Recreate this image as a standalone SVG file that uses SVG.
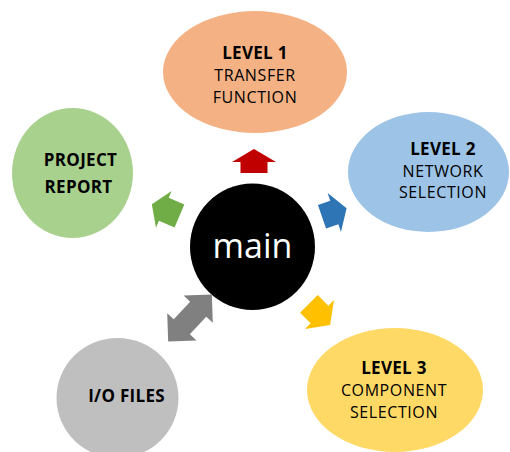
<svg xmlns="http://www.w3.org/2000/svg" width="510" height="452" viewBox="0 0 510 452">
  <style>
    .lbl { font-family: "Open Sans", "Noto Sans", sans-serif; font-size: 16px; letter-spacing: 0.6px; fill: #000; text-anchor: middle; }
    .b { font-weight: bold; font-size: 17px; letter-spacing: 0.3px; }
    .main { font-family: "Open Sans", "Noto Sans", sans-serif; font-size: 34px; fill: #fff; text-anchor: middle; }
    .red { fill: #C00000; }
    .blue { fill: #2E75B6; }
    .green { fill: #70AD47; }
    .yellow { fill: #FFC000; }
    .gray { fill: #808080; }
  </style>
  <rect width="510" height="452" fill="#fff"/>

  <!-- outer nodes -->
  <g id="level1">
    <ellipse cx="255" cy="72" rx="92" ry="61" fill="#F4B183"/>
    <text class="lbl b" x="255" y="58.5">LEVEL 1</text>
    <text class="lbl" x="255" y="80.7">TRANSFER</text>
    <text class="lbl" x="255" y="102.7">FUNCTION</text>
  </g>
  <g id="level2">
    <ellipse cx="428.5" cy="172" rx="80.5" ry="60" fill="#9DC3E6"/>
    <text class="lbl b" x="443" y="155">LEVEL 2</text>
    <text class="lbl" x="443" y="176.7">NETWORK</text>
    <text class="lbl" x="443" y="198.3">SELECTION</text>
  </g>
  <g id="level3">
    <ellipse cx="395" cy="390" rx="88" ry="62" fill="#FFD966"/>
    <text class="lbl b" x="394" y="374">LEVEL 3</text>
    <text class="lbl" x="394" y="396">COMPONENT</text>
    <text class="lbl" x="394" y="418.3">SELECTION</text>
  </g>
  <g id="io-files">
    <ellipse cx="117.5" cy="398" rx="61" ry="60" fill="#BFBFBF"/>
    <text class="lbl b" x="126.5" y="401.7">I/O FILES</text>
  </g>
  <g id="project-report">
    <ellipse cx="72.5" cy="173" rx="60.5" ry="65" fill="#A9D18E"/>
    <text class="lbl b" x="80.5" y="165.7">PROJECT</text>
    <text class="lbl b" x="78.5" y="193.3">REPORT</text>
  </g>

  <!-- hub -->
  <g id="main">
    <ellipse cx="252.5" cy="246.7" rx="62.5" ry="63.3" fill="#000"/>
    <text class="main" x="252.5" y="258">main</text>
  </g>

  <!-- block arrows between hub and nodes (origin = middle of head base) -->
  <g id="connectors">
    <polygon class="red" transform="translate(254 162) rotate(-90)" points="-11,-13.5 0,-13.5 0,-22 13,0 0,22 0,13.5 -11,13.5"/>
    <polygon class="blue" transform="translate(334.3 212.5) rotate(-19)" points="-13,-12.5 0,-12.5 0,-20.5 13,0 0,20.5 0,12.5 -13,12.5"/>
    <polygon class="green" transform="translate(163.8 209.3) rotate(203)" points="-17,-12.5 0,-12.5 0,-20 13,0 0,20 0,12.5 -17,12.5"/>
    <polygon class="yellow" transform="translate(319.5 314.5) rotate(45)" points="-15,-12.5 0,-12.5 0,-20.5 15,0 0,20.5 0,12.5 -15,12.5"/>
    <polygon class="gray" transform="translate(190 318) rotate(-47)" points="-32,0 -12,-20 -12,-11 12,-11 12,-20 32,0 12,20 12,11 -12,11 -12,20"/>
  </g>
</svg>
